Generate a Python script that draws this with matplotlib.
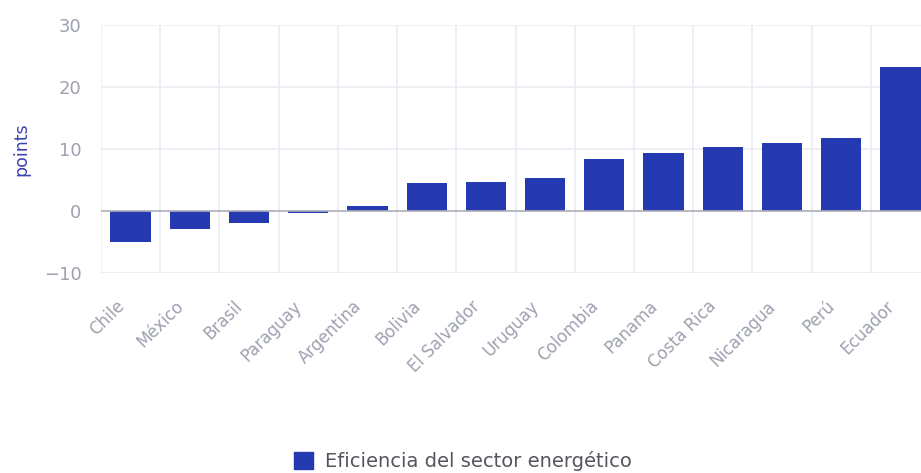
import matplotlib
matplotlib.use("Agg")
import matplotlib.pyplot as plt
from matplotlib.patches import Patch
from matplotlib.transforms import ScaledTranslation

countries = ["Chile", "México", "Brasil", "Paraguay", "Argentina", "Bolivia",
             "El Salvador", "Uruguay", "Colombia", "Panama", "Costa Rica",
             "Nicaragua", "Perú", "Ecuador"]
values = [-5.0, -2.9, -2.0, -0.4, 0.8, 4.5, 4.7, 5.3, 8.4, 9.4, 10.4, 11.0, 11.8, 23.2]
yticks = [-10, 0, 10, 20, 30]
series_name = "Eficiencia del sector energético"

plt.rcParams['font.family'] = ['DejaVu Sans']

W, H = 921, 473
fig = plt.figure(figsize=(W / 100, H / 100), dpi=100)
left, right, top, bottom = 101, 930, 25, 273
ax = fig.add_axes([left / W, 1 - bottom / H, (right - left) / W, (bottom - top) / H])

bar_color = "#2539b0"
tick_color = "#9ea2b0"
x = list(range(len(countries)))
ax.bar(x, values, width=0.68, color=bar_color, zorder=3)
ax.axhline(0, color="#b0b0b8", lw=1.2, zorder=4)

ax.set_xlim(-0.5, len(countries) - 0.5)
ax.set_ylim(-10, 30)
ax.set_yticks(yticks)
ax.set_xticks([i - 0.5 for i in range(len(countries) + 1)], minor=False)
ax.set_xticklabels([])
ax.set_xticks(x, minor=True)
ax.set_xticklabels(countries, minor=True, rotation=45, ha="right", va="center",
                   rotation_mode="anchor", color=tick_color, fontsize=12)
ax.tick_params(axis="x", which="both", length=0, pad=22)
offset = ScaledTranslation(-9 / 100, 0, fig.dpi_scale_trans)
for lbl in ax.get_xticklabels(minor=True):
    lbl.set_transform(lbl.get_transform() + offset)
ax.tick_params(axis="y", length=0, pad=14, labelcolor=tick_color, labelsize=13)

ax.grid(True, which="major", color="#eaecf3", lw=1.2, zorder=0)
for s in ax.spines.values():
    s.set_visible(False)

ax.set_ylabel("points", color="#3a42b0", fontsize=12.5)
ax.yaxis.set_label_coords((30 - left) / (right - left), 0.5)

handles = [Patch(facecolor=bar_color, edgecolor=bar_color, label=series_name)]
fig.legend(handles=handles, loc="center", bbox_to_anchor=(463 / W, 1 - 461 / H),
           frameon=False, fontsize=14, handlelength=1.0, handleheight=1.0,
           handletextpad=0.6, labelcolor="#555560")

fig.savefig("out.png", dpi=100)
